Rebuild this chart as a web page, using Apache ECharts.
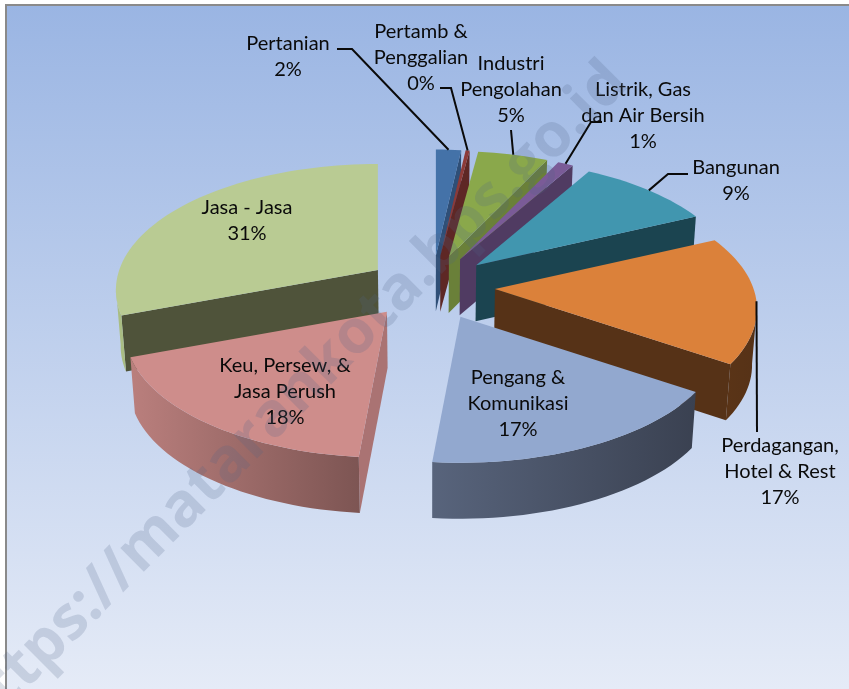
<!DOCTYPE html>
<html><head><meta charset="utf-8">
<style>html,body{margin:0;padding:0;background:#fff}#c{width:849px;height:689px}</style>
<script src="https://cdn.jsdelivr.net/npm/echarts@6/dist/echarts.min.js"></script>
</head><body><div id="c"></div>
<script>
// ---- data ----
const categories = ['Pertanian','Pertamb &\nPenggalian','Industri\nPengolahan','Listrik, Gas\ndan Air Bersih','Bangunan','Perdagangan,\nHotel & Rest','Pengang &\nKomunikasi','Keu, Persew, &\nJasa Perush','Jasa - Jasa'];
const values = [1.9,0.3,5.0,0.9,9.0,16.8,16.7,18.1,31.3];

// ---- styling / layout ----
const topColors  = ['#4472a8','#8d3a38','#8aa84b','#7a5b97','#4196af','#db813a','#92a8cf','#ce8d8b','#b9cb93'];
const wallColors = ['#2f4f77','#5e2725','#6a8039','#503b62','#1b4450','#563217','#3c4454','#aa7373','#4f533a'];
const arcColors  = [['#2f4f77','#2f4f77'],['#5e2725','#5e2725'],['#6a8039','#6a8039'],['#503b62','#503b62'],['#1b4450','#1b4450'],['#5a3417','#563217'],['#58647c','#3a4151'],['#ba7f7d','#7d5553'],['#a9bd83','#a9bd83']];
const paintOrder = [0,1,2,3,4,8,5,7,6];
const labelAt = [[288,57],[421,58],[511,90],[643,116],[736,181],[780,472],[518,404],[285,392],[247,221]];
const leaderVia = [[[337,49],[352,49]],[[440,88],[451,88]],[[511,130]],[[602,122],[591,122]],[[688,174],[668,174]],[[757,432]],null,null,null];
const apexNudge = [[2,0],[2,0],[0,0],[0,0],[0,0],[0,0],[0,0],[-6,-3],[2,0]];
const CX=430, CY=288, EXPLODE=65, EXPLODE_Y=0.5, RX=262, RY=126, RYSHIFT=20, DEPTH=56, BOTTOM=0.985;
// perspective warp of plan angle to drawn angle
const warpKnots = [[0,0],[7.9,6.4],[25.9,22],[29.2,25.5],[61.6,57],[122,116],[182,186],[247,258],[360,360]];

const total = values.reduce((a,b)=>a+b,0);
const rad = d=>d*Math.PI/180;
function warp(d){
  for(let k=1;k<warpKnots.length;k++){
    const [x0,y0]=warpKnots[k-1],[x1,y1]=warpKnots[k];
    if(d<=x1) return y0+(y1-y0)*(d-x0)/(x1-x0);
  }
  return d;
}

function renderItem(params, api){
  const i = api.value(0), v = api.value(1);
  let before = 0; for(let k=0;k<i;k++) before += values[k];
  const a0 = before/total*360, a1 = (before+v)/total*360, mid=(a0+a1)/2;
  const ax = CX+EXPLODE*Math.sin(rad(mid))+apexNudge[i][0], ay = CY-EXPLODE*EXPLODE_Y*Math.cos(rad(mid))+apexNudge[i][1];
  const P = d=>{const w=rad(warp(d));return [ax+RX*Math.sin(w), ay+RYSHIFT-RY*Math.cos(w)];};
  const low = p=>[CX+(p[0]-CX)*BOTTOM, p[1]+DEPTH];
  const apex=[ax,ay];
  const arc=[]; const n=Math.max(2,Math.ceil((a1-a0)/2));
  for(let k=0;k<=n;k++) arc.push(P(a0+(a1-a0)*k/n));
  const z = paintOrder.indexOf(i)*10+1;
  const kids=[];
  const wall=(q)=>({type:'polygon',z2:z,shape:{points:[apex,q,low(q),low(apex)]},style:{fill:wallColors[i]},silent:true});
  if(Math.sin(rad(warp(a0)))<-1e-6) kids.push(wall(arc[0]));
  if(Math.sin(rad(warp(a1)))>1e-6) kids.push(wall(arc[arc.length-1]));
  // outer wall: only the part facing the viewer
  const vis=[]; for(let k=0;k<=n;k++){const d=a0+(a1-a0)*k/n,w=warp(d); if(w>=88&&w<=272) vis.push(P(d));}
  if(vis.length>1){
    const pts=vis.concat(vis.slice().reverse().map(low));
    kids.push({type:'polygon',z2:z+1,shape:{points:pts},silent:true,
      style:{fill:new echarts.graphic.LinearGradient(0,0,1,0,[{offset:0,color:arcColors[i][0]},{offset:1,color:arcColors[i][1]}])}});
  }
  kids.push({type:'polygon',z2:z+2,shape:{points:[apex].concat(arc)},style:{fill:topColors[i]},silent:true});
  // leader + label
  if(leaderVia[i]){
    kids.push({type:'polyline',z2:500,silent:true,shape:{points:leaderVia[i].concat([P(mid)])},style:{stroke:'#0a0a0a',lineWidth:2,fill:null}});
  }
  const pct=Math.round(v/total*100)+'%';
  kids.push({type:'text',z2:600,silent:true,style:{text:categories[i]+'\n'+pct,x:labelAt[i][0],y:labelAt[i][1],align:'center',verticalAlign:'middle',font:'20px Lato',lineHeight:26,fill:'#0a0a0a'}});
  return {type:'group',children:kids};
}

const chart = echarts.init(document.getElementById('c'),null,{renderer:'canvas'});
chart.setOption({
  animation:false,
  backgroundColor:'#fff',
  graphic:{elements:[
    {type:'rect',z:-10,silent:true,shape:{x:6,y:5,width:843,height:684},
     style:{fill:new echarts.graphic.LinearGradient(0,0,0,1,[{offset:0,color:'#9ab5e3'},{offset:1,color:'#e5ebf7'}]),stroke:null}},
    {type:'polyline',z:-9,silent:true,shape:{points:[[6,689],[6,5],[849,5]]},style:{stroke:'#8a8a8a',lineWidth:2,fill:null}},
    {type:'text',z:100,silent:true,x:292,y:399,rotation:Math.PI/4,
     style:{text:'https://matarankota.bps.go.id',align:'center',verticalAlign:'middle',font:'bold 61px "Open Sans"',fill:'rgba(80,100,135,0.2)'}}
  ]},
  series:[{type:'custom',coordinateSystem:'none',renderItem,silent:true,
    data:values.map((v,i)=>[i,v])}]
});
</script></body></html>
